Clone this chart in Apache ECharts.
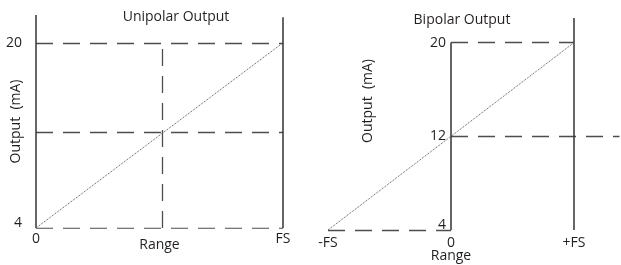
<!DOCTYPE html>
<html>
<head>
<meta charset="utf-8">
<script src="https://cdn.jsdelivr.net/npm/echarts@6/dist/echarts.min.js"></script>
<style>
html, body { margin: 0; background: #fff; }
#main { width: 621px; height: 265px; }
</style>
</head>
<body>
<div id="main"></div>
<script>
// unipolar: range 0..FS -> 4..20 mA
var uniTicks = [0, 1];
var uniTickLabels = ['0', 'FS'];
var uniOut = [4, 20];
var uniResponse = [[0, 4], [1, 20]];
var uniGuides = [
    [[0, 20], [1, 20]],
    [[0, 12.3], [1, 12.3]],
    [[0, 4], [1, 4]],
    [[0.51, 4], [0.51, 20]]
];
var uniFrame = [
    [[0, 4], [0, 22.4]],
    [[1, 4], [1, 22.2]]
];

// bipolar: range -FS..+FS -> 4..20 mA
var biTicks = [-1, 0, 1];
var biTickLabels = ['-FS', '0', '+FS'];
var biOut = [4, 12, 20];
var biResponse = [[-1, 4], [1, 20]];
var biGuides = [
    [[0, 20], [1, 20]],
    [[0, 12], [1.37, 12]],
    [[-1, 4], [0, 4]]
];
var biFrame = [
    [[0, 4], [0, 20]],
    [[1, 4], [1, 22.1]]
];

var font = 'Open Sans';
var fs = 14;
var ink = '#231f20';

function tickFmt(ticks, labels) {
    return function (v) { return labels[ticks.indexOf(v)]; };
}
function outFmt(v) {
    return v === 4 ? '{low|4}' : String(v);
}
var lowRich = { low: { fontFamily: font, fontSize: fs, color: ink, padding: [0, 0, 10, 0] } };
var txt = { fontSize: fs, color: ink, fontFamily: font };

function guideSeries(grid, data, clip) {
    return {
        type: 'lines', coordinateSystem: 'cartesian2d',
        xAxisIndex: grid, yAxisIndex: grid, clip: clip, silent: true,
        data: data.map(function (c) { return { coords: c }; }),
        lineStyle: { color: '#4d4d4d', width: 1.3, type: [17, 10], opacity: 1 }
    };
}
function frameSeries(grid, data) {
    return {
        type: 'lines', coordinateSystem: 'cartesian2d',
        xAxisIndex: grid, yAxisIndex: grid, clip: false, silent: true,
        data: data.map(function (c) { return { coords: c }; }),
        lineStyle: { color: '#333', width: 1.5, type: 'solid', opacity: 1 }
    };
}
function responseSeries(grid, data) {
    return {
        type: 'line', xAxisIndex: grid, yAxisIndex: grid, data: data,
        symbol: 'none', silent: true,
        lineStyle: { color: '#555', width: 1, type: [1, 1] }
    };
}

var chart = echarts.init(document.getElementById('main'));
chart.setOption({
    animation: false,
    textStyle: { fontFamily: font, color: ink },
    title: [
        { text: 'Unipolar Output', left: 176, top: 10, padding: 0, textAlign: 'center',
          textStyle: { fontFamily: font, fontSize: fs, fontWeight: 'normal', color: ink } },
        { text: 'Bipolar Output', left: 462, top: 13, padding: 0, textAlign: 'center',
          textStyle: { fontFamily: font, fontSize: fs, fontWeight: 'normal', color: ink } }
    ],
    grid: [
        { left: 36, top: 15, width: 247, height: 213, outerBoundsMode: 'none', containLabel: false },
        { left: 328, top: 18, width: 246, height: 212, outerBoundsMode: 'none', containLabel: false }
    ],
    xAxis: [
        { type: 'value', gridIndex: 0, min: 0, max: 1,
          axisLine: { show: false }, axisTick: { show: false }, splitLine: { show: false },
          axisLabel: Object.assign({ customValues: uniTicks, formatter: tickFmt(uniTicks, uniTickLabels),
                       margin: 4 }, txt),
          name: 'Range', nameLocation: 'middle', nameGap: 10, nameMoveOverlap: false,
          nameTextStyle: txt },
        { type: 'value', gridIndex: 1, min: -1, max: 1,
          axisLine: { show: false }, axisTick: { show: false }, splitLine: { show: false },
          axisLabel: Object.assign({ customValues: biTicks, formatter: tickFmt(biTicks, biTickLabels),
                       margin: 6 }, txt),
          name: 'Range', nameLocation: 'middle', nameGap: 19, nameMoveOverlap: false,
          nameTextStyle: txt }
    ],
    yAxis: [
        { type: 'value', gridIndex: 0, min: 4, max: 22.4,
          axisLine: { show: false }, axisTick: { show: false }, splitLine: { show: false },
          axisLabel: Object.assign({ customValues: uniOut, formatter: outFmt, rich: lowRich,
                       margin: 14 }, txt),
          name: 'Output  (mA)', nameLocation: 'middle', nameGap: 13, nameMoveOverlap: false,
          nameTextStyle: txt },
        // y axis sits at range 0 (x = 453px), i.e. 125px right of the grid's left edge
        { type: 'value', gridIndex: 1, min: 4, max: 22.1, offset: -125,
          axisLine: { show: false, onZero: false }, axisTick: { show: false }, splitLine: { show: false },
          axisLabel: Object.assign({ customValues: biOut, formatter: outFmt, rich: lowRich,
                       margin: 7 }, txt),
          name: 'Output  (mA)', nameLocation: 'middle', nameGap: 78, nameMoveOverlap: false,
          nameTextStyle: Object.assign({ padding: [0, 0, 0, 46] }, txt) }
    ],
    series: [
        guideSeries(0, uniGuides, true),
        frameSeries(0, uniFrame),
        responseSeries(0, uniResponse),
        guideSeries(1, biGuides, false),
        frameSeries(1, biFrame),
        responseSeries(1, biResponse)
    ]
});
</script>
</body>
</html>
